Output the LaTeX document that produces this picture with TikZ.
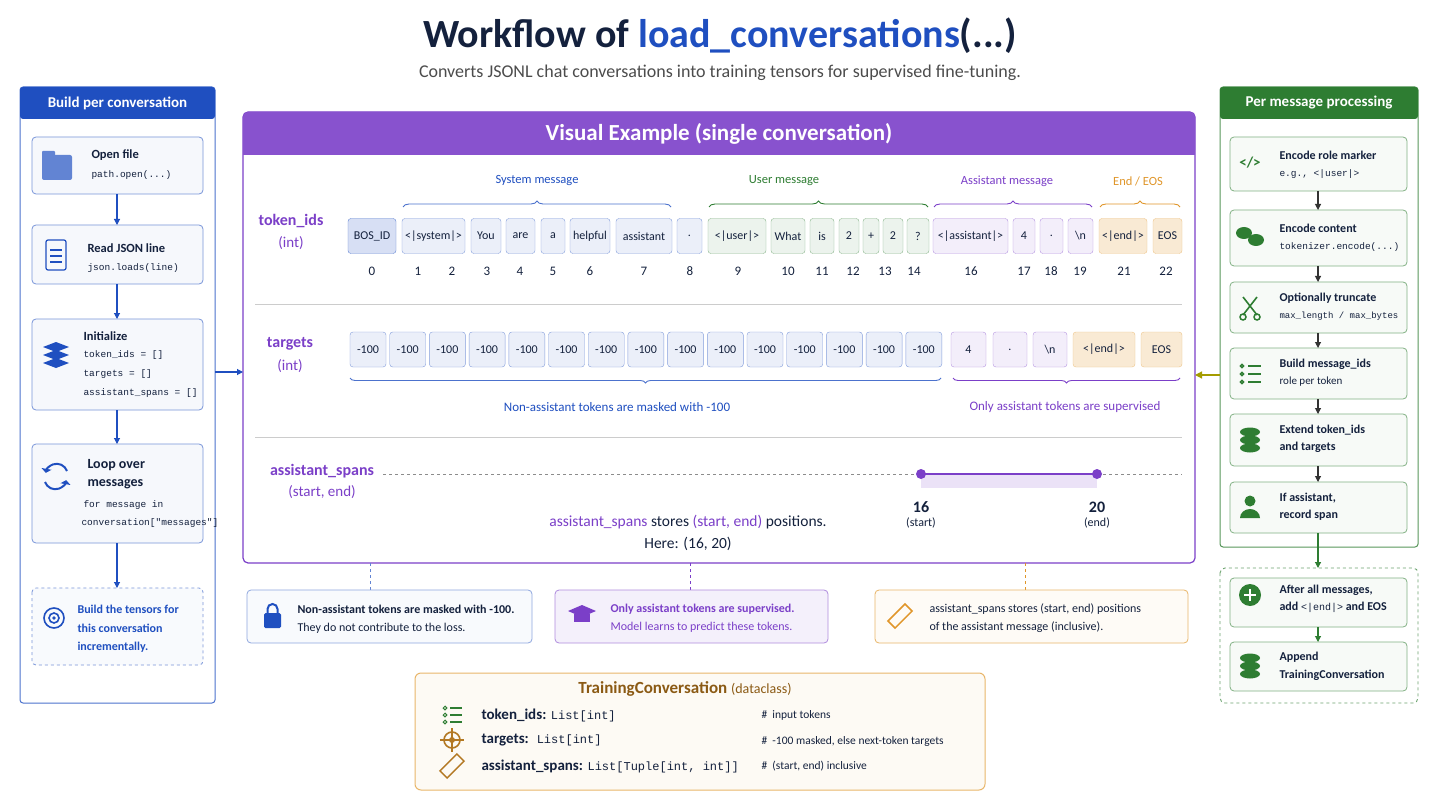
\documentclass[tikz,border=0pt]{standalone}
\usepackage{fontspec}
\setmainfont{Carlito}
\setmonofont{Liberation Mono}
\usetikzlibrary{decorations.pathreplacing,arrows.meta,calc}
\definecolor{cblue}{HTML}{1F4FC0}
\definecolor{cpur}{HTML}{7B3FC8}
\definecolor{cgrn}{HTML}{2E7D32}
\definecolor{cora}{HTML}{E0962A}
\definecolor{cbrn}{HTML}{8B5A14}
\definecolor{cdark}{HTML}{14213D}
\newcommand\fs[1]{\fontsize{#1}{#1}\selectfont}
\newcommand\tk[5]{\node[#1,minimum width=#3-#2] (#5) at ({(#2+#3)/2},236) {#4};}
\newcommand\tg[5]{\node[#1,minimum width=#3-#2] (#5) at ({(#2+#3)/2},349.5) {#4};}
\tikzset{
 tokb/.style={draw=#1!55,fill=#1!9,rounded corners=3pt,minimum height=35,inner sep=1pt,font=\fs{12},text=cdark},
 sys/.style={tokb=cblue}, usr/.style={tokb=cgrn}, ast/.style={tokb=cpur}, eos/.style={tokb=cora,fill=cora!20},
 bos/.style={tokb=cblue,fill=cblue!18,draw=cblue!70},
 lbox/.style={draw=cblue!60,fill=cblue!4,rounded corners=4pt,line width=0.8pt},
 rbox/.style={draw=cgrn!60,fill=cgrn!4,rounded corners=4pt,line width=0.8pt},
 ttl/.style={anchor=west,font=\bfseries\fs{12.5},text=cdark},
 mono/.style={anchor=west,font=\ttfamily\fs{9.5},text=cdark},
 arrb/.style={-{Triangle[length=6pt,width=6pt]},line width=1.1pt,color=cblue},
 arrg/.style={-{Triangle[length=6pt,width=6pt]},line width=1.1pt,color=black!80},
 idx/.style={font=\fs{13},text=cdark},
 brc/.style={decorate,decoration={brace,amplitude=6pt},line width=0.9pt},
}
\begin{document}
\begin{tikzpicture}[x=1pt,y=-1pt]
\useasboundingbox[fill=white] (0,0) rectangle (1440,810);
% title
\node (title) at (720,36) {\bfseries\fs{40}\color{cdark}Workflow of \color{cblue}load\_conversations\color{cdark}(...)};
\node[text=black!70] (sub) at (720,73) {\fs{18}Converts JSONL chat conversations into training tensors for supervised fine-tuning.};

% ===== left panel
\draw[cblue!80,line width=1pt,rounded corners=3pt,fill=white] (20,87) rectangle (215,703);
\fill[cblue,rounded corners=3pt] (20,87) rectangle (215,119);
\node[text=white,font=\bfseries\fs{15}] (lhead) at (117.5,103) {Build per conversation};
\draw[lbox] (32,137) rectangle (203,194); \coordinate (L1b) at (117,194);
\draw[lbox] (32,225) rectangle (203,284); \coordinate (L2t) at (117,225); \coordinate (L2b) at (117,284);
\draw[lbox] (32,319) rectangle (203,410); \coordinate (L3t) at (117,319); \coordinate (L3b) at (117,410);
\draw[lbox] (32,444) rectangle (203,543); \coordinate (L4t) at (117,444); \coordinate (L4b) at (117,543);
\draw[cblue!60,dashed,rounded corners=4pt,fill=cblue!3,line width=0.8pt] (32,588) rectangle (203,665); \coordinate (L5t) at (117,588);
\draw[arrb] (L1b)--(L2t); \draw[arrb] (L2b)--(L3t); \draw[arrb] (L3b)--(L4t); \draw[arrb] (L4b)--(L5t);
% icons
\fill[cblue!70,rounded corners=2pt] (42,155) rectangle (72,180); \fill[cblue!70,rounded corners=1pt] (42,151) rectangle (55,158);
\draw[cblue,line width=1.2pt,rounded corners=2pt] (46,240) rectangle (66,270);
\foreach \yy in {250,256,262} \draw[cblue,line width=1.2pt] (50,\yy)--(62,\yy);
\foreach \yy in {363,355,347} \fill[cblue] (56,\yy-5)--(69,\yy)--(56,\yy+5)--(43,\yy)--cycle;
\draw[cblue,line width=2pt,-{Triangle[length=4pt]}] (67,471) arc (-20:-170:11);
\draw[cblue,line width=2pt,-{Triangle[length=4pt]}] (45,482) arc (160:10:11);
\draw[cblue,line width=1.6pt] (54,618) circle (10); \draw[cblue,line width=1.6pt] (54,618) circle (5); \fill[cblue] (54,618) circle (1.8);
% texts
\node[ttl] (t1) at (88,155) {Open file}; \node[mono] (m1) at (88,175) {path.open(...)};
\node[ttl] (t2) at (84,248) {Read JSON line}; \node[mono] (m2) at (84,268) {json.loads(line)};
\node[ttl] (t3) at (80,336) {Initialize};
\node[mono] (m3a) at (80,355) {token\_ids = []};
\node[mono] (m3b) at (80,374) {targets = []};
\node[mono] (m3c) at (80,393) {assistant\_spans = []};
\node[ttl,font=\bfseries\fs{14}] (t4a) at (84,465) {Loop over};
\node[ttl,font=\bfseries\fs{14}] (t4b) at (84,484) {messages};
\node[mono] (m4a) at (80,505) {for message in};
\node[mono] (m4b) at (78,523) {conversation["messages"]};
\node[anchor=west,font=\bfseries\fs{12},text=cblue] (b5a) at (74,609) {Build the tensors for};
\node[anchor=west,font=\bfseries\fs{12},text=cblue] (b5b) at (74,628) {this conversation};
\node[anchor=west,font=\bfseries\fs{12},text=cblue] (b5c) at (74,647) {incrementally.};

% ===== main panel
\draw[cpur,line width=1.2pt,rounded corners=5pt,fill=white] (243,112) rectangle (1195,563);
\fill[cpur!90,rounded corners=5pt] (243,112) rectangle (1195,155);
\fill[cpur!90] (243,140) rectangle (1195,155);
\node[text=white,font=\bfseries\fs{23}] (mhead) at (719,134) {Visual Example (single conversation)};
\draw[black!20,line width=1pt] (255,305)--(1182,305);
\draw[black!20,line width=1pt] (255,437)--(1182,437);
\coordinate (ML) at (243,372); \coordinate (MR) at (1195,375);
\draw[arrb] (215,372)--(ML);

% token_ids row
\node[text=cpur,font=\bfseries\fs{16}] (lt1) at (291,221) {token\_ids};
\node[text=cpur,font=\fs{15}] (lt2) at (291,243) {(int)};
\tk{bos}{348}{396}{BOS\_ID}{k0}
\tk{sys}{402}{465}{<|system|>}{k1}
\tk{sys}{471}{501}{You}{k3}
\tk{sys}{506}{535}{are}{k4}
\tk{sys}{541}{565}{a}{k5}
\tk{sys}{570}{610}{helpful}{k6}
\tk{sys}{616}{672}{assistant}{k7}
\tk{sys}{677}{702}{.}{k8}
\tk{usr}{708}{766}{<|user|>}{k9}
\tk{usr}{771}{805}{What}{k10}
\tk{usr}{810}{834}{is}{k11}
\tk{usr}{839}{859}{2}{k12}
\tk{usr}{863}{879}{+}{k13}
\tk{usr}{883}{903}{2}{k14}
\tk{usr}{907}{929}{?}{k15}
\tk{ast}{933}{1008}{<|assistant|>}{k16}
\tk{ast}{1013}{1035}{4}{k17}
\tk{ast}{1040}{1063}{.}{k18}
\tk{ast}{1068}{1093}{\textbackslash n}{k19}
\tk{eos}{1099}{1147}{<|end|>}{k21}
\tk{eos}{1153}{1182}{EOS}{k22}
\foreach \n/\xx in {0/372,1/418,2/452,3/487,4/520,5/553,6/590,7/644,8/690,9/738,10/788,11/822,12/853,13/885,14/914,16/971,17/1024,18/1051,19/1080,21/1124,22/1166}
  \node[idx] (i\n) at (\xx,271) {\n};
\draw[brc,cblue!80] (403,207)--(671,207); \node[text=cblue,font=\fs{12.5}] (bs) at (537,181) {System message};
\draw[brc,cgrn] (709,207)--(928,207); \node[text=cgrn,font=\fs{12.5}] (bu) at (784,181) {User message};
\draw[brc,cpur] (934,207)--(1092,207); \node[text=cpur,font=\fs{12.5}] (ba) at (1007,181) {Assistant message};
\draw[brc,cora] (1100,207)--(1180,207); \node[text=cora,font=\fs{12.5}] (be) at (1138,181) {End / EOS};

% targets row
\node[text=cpur,font=\bfseries\fs{16}] (lg1) at (290,344) {targets};
\node[text=cpur,font=\fs{15}] (lg2) at (290,366) {(int)};
\foreach \i in {0,...,14} {
  \pgfmathsetmacro\xa{350+\i*39.7}
  \node[sys,minimum width=36] (g\i) at (\xa+18,349.5) {-100};
}
\tg{ast}{951}{986}{4}{g15}
\tg{ast}{993}{1027}{.}{g16}
\tg{ast}{1033}{1067}{\textbackslash n}{g17}
\tg{eos}{1073}{1135}{<|end|>}{g18}
\tg{eos}{1141}{1182}{EOS}{g19}
\draw[brc,cblue!80,decoration={brace,mirror,amplitude=5pt}] (350,378)--(941,378);
\node[text=cblue,font=\fs{13}] (nb1) at (617,407) {Non-assistant tokens are masked with -100};
\draw[brc,cpur,decoration={brace,mirror,amplitude=5pt}] (953,378)--(1180,378);
\node[text=cpur,font=\fs{13}] (nb2) at (1065,407) {Only assistant tokens are supervised};

% spans row
\node[text=cpur,font=\bfseries\fs{16}] (ls1) at (322,471) {assistant\_spans};
\node[text=cpur,font=\fs{15}] (ls2) at (322,492) {(start, end)};
\draw[black!45,dashed,line width=0.9pt] (383,474)--(1182,474);
\fill[cpur!15] (921,474) rectangle (1097,488);
\coordinate (s1) at (921,474); \coordinate (s2) at (1097,474);
\draw[cpur,line width=2pt] (s1)--(s2);
\fill[cpur] (s1) circle (5); \fill[cpur] (s2) circle (5);
\node[font=\bfseries\fs{16},text=cdark] (n16) at (921,507) {16};
\node[font=\fs{12},text=cdark] (n16b) at (921,523) {(start)};
\node[font=\bfseries\fs{16},text=cdark] (n20) at (1097,507) {20};
\node[font=\fs{12},text=cdark] (n20b) at (1097,523) {(end)};
\node[font=\fs{15.5},text=cdark] (sp1) at (688,522) {\textcolor{cpur}{assistant\_spans} stores \textcolor{cpur}{(start, end)} positions.};
\node[font=\fs{15.5},text=cdark] (sp2) at (688,544) {Here: (16, 20)};

% notes
\coordinate (d1) at (370,563); \coordinate (d2) at (690,563); \coordinate (d3) at (1025,563);
\draw[cblue!70,dashed,line width=1pt] (d1)--(370,590);
\draw[cpur,dashed,line width=1pt] (d2)--(690,590);
\draw[cora,dashed,line width=1pt] (d3)--(1025,590);
\draw[cblue!50,fill=cblue!3,rounded corners=4pt,line width=0.8pt] (247,590) rectangle (532,643);
\fill[cblue,rounded corners=1.5pt] (264,613) rectangle (281,628); \draw[cblue,line width=2pt] (267.5,613)--(267.5,609) arc (180:360:5)--(277.5,613);
\node[anchor=west,font=\bfseries\fs{12},text=cdark] (na1) at (294,609) {Non-assistant tokens are masked with -100.};
\node[anchor=west,font=\fs{12},text=cdark] (na2) at (294,628) {They do not contribute to the loss.};
\draw[cpur!60,fill=cpur!8,rounded corners=4pt,line width=0.8pt] (555,590) rectangle (828,643);
\fill[cpur] (568,611)--(582,605)--(596,611)--(582,617)--cycle; \fill[cpur] (574,614) rectangle (590,622);
\node[anchor=west,font=\bfseries\fs{12},text=cpur] (nb1x) at (607,609) {Only assistant tokens are supervised.};
\node[anchor=west,font=\fs{12},text=cpur] (nb2x) at (607,627) {Model learns to predict these tokens.};
\draw[cora!70,fill=cora!4,rounded corners=4pt,line width=0.8pt] (875,590) rectangle (1188,643);
\draw[cora,line width=1.5pt,rotate around={45:(900,616)}] (888,611) rectangle (912,621);
\node[anchor=west,font=\fs{12},text=cdark] (nc1) at (926,609) {assistant\_spans stores (start, end) positions};
\node[anchor=west,font=\fs{12},text=cdark] (nc2) at (926,627) {of the assistant message (inclusive).};

% ===== right panel
\draw[cgrn!80,line width=1pt,rounded corners=3pt,fill=white] (1220,87) rectangle (1418,547);
\fill[cgrn,rounded corners=3pt] (1220,87) rectangle (1418,119);
\node[text=white,font=\bfseries\fs{15}] (rhead) at (1319,103) {Per message processing};
\foreach \ya/\yb/\nm in {137/191/R1,210/266/R2,282/333/R3,348/399/R4,414/466/R5,482/533/R6}{
  \draw[rbox] (1230,\ya) rectangle (1407,\yb);
  \coordinate (\nm t) at (1318,\ya); \coordinate (\nm b) at (1318,\yb);
}
\draw[arrg] (R1b)--(R2t); \draw[arrg] (R2b)--(R3t); \draw[arrg] (R3b)--(R4t); \draw[arrg] (R4b)--(R5t); \draw[arrg] (R5b)--(R6t);
\draw[-{Triangle[length=7pt,width=7pt]},line width=1.2pt,color=olive!80!yellow] (1220,375)--(MR);
\draw[cgrn!70,dashed,rounded corners=5pt,line width=0.9pt] (1220,568) rectangle (1418,703);
\draw[-{Triangle[length=6pt,width=6pt]},line width=1.2pt,color=cgrn] (1318,533)--(1318,568);
\draw[rbox] (1230,578) rectangle (1407,627); \draw[rbox] (1230,642) rectangle (1407,691);
\draw[arrg,color=cgrn] (1318,627)--(1318,642);
% icons right
\node[font=\bfseries\fs{15},text=cgrn] (ic1) at (1250,163) {</>};
\fill[cgrn] (1244,233) ellipse (8 and 6); \fill[cgrn] (1256,240) ellipse (8 and 6);
\draw[cgrn,line width=1.6pt] (1243,297)--(1257,315) (1257,297)--(1243,315); \draw[cgrn,line width=1.5pt] (1243,317) circle (3) (1257,317) circle (3);
\foreach \yy in {366,374,382} {\draw[cgrn,line width=1.3pt] (1242,\yy) circle (1.6); \draw[cgrn,line width=2pt] (1248,\yy)--(1261,\yy);}
\foreach \yy in {432,440,448} \fill[cgrn] (1250,\yy) ellipse (10 and 4.5);
\fill[cgrn] (1250,501) circle (5.5); \fill[cgrn] (1240,518) arc (180:360:10 and 9)--cycle;
\fill[cgrn] (1250,595) circle (11); \draw[white,line width=2.2pt] (1244,595)--(1256,595) (1250,589)--(1250,601);
\foreach \yy in {658,666,674} \fill[cgrn] (1250,\yy) ellipse (10 and 4.5);
% texts right
\node[ttl,font=\bfseries\fs{12}] (r1) at (1276,155) {Encode role marker}; \node[mono,font=\ttfamily\fs{9.5}] (r1m) at (1276,174) {e.g., <|user|>};
\node[ttl,font=\bfseries\fs{12}] (r2) at (1276,228) {Encode content}; \node[mono,font=\ttfamily\fs{9.5}] (r2m) at (1276,247) {tokenizer.encode(...)};
\node[ttl,font=\bfseries\fs{12}] (r3) at (1276,298) {Optionally truncate}; \node[mono,font=\ttfamily\fs{9}] (r3m) at (1276,316) {max\_length / max\_bytes};
\node[ttl,font=\bfseries\fs{12}] (r4) at (1276,364) {Build message\_ids}; \node[anchor=west,font=\fs{11},text=cdark] (r4m) at (1276,382) {role per token};
\node[ttl,font=\bfseries\fs{12}] (r5) at (1276,430) {Extend token\_ids}; \node[ttl,font=\bfseries\fs{12}] (r5m) at (1276,447) {and targets};
\node[ttl,font=\bfseries\fs{12}] (r6) at (1276,498) {If assistant,}; \node[ttl,font=\bfseries\fs{12}] (r6m) at (1276,515) {record span};
\node[ttl,font=\bfseries\fs{12}] (r7) at (1276,590) {After all messages,};
\node[ttl,font=\bfseries\fs{12}] (r7m) at (1276,607) {add {\ttfamily\mdseries\fs{10}<|end|>} and EOS};
\node[ttl,font=\bfseries\fs{12}] (r8) at (1276,657) {Append}; \node[ttl,font=\bfseries\fs{12}] (r8m) at (1276,675) {TrainingConversation};

% ===== dataclass
\draw[cora!70,fill=cora!5,rounded corners=6pt,line width=1pt] (415,673) rectangle (985,790);
\node[text=cbrn,font=\fs{17}] (dc) at (685,689) {\bfseries TrainingConversation \mdseries\fs{14}(dataclass)};
\foreach \yy in {708,715,722} {\draw[cgrn,line width=1pt] (445,\yy) circle (1.8); \draw[cgrn,line width=2.6pt] (450,\yy)--(462,\yy);}
\draw[cora!80!black,line width=1.6pt] (452,740) circle (8); \fill[cora!80!black] (452,740) circle (3);
\draw[cora!80!black,line width=1.6pt] (452,728)--(452,752) (440,740)--(464,740);
\draw[cora!80!black,line width=1.4pt,rotate around={45:(452,766)}] (440,761) rectangle (464,771);
\node[anchor=west,text=cdark] (f1) at (478,715) {\bfseries\fs{15}token\_ids: \mdseries\ttfamily\fs{12}List[int]};
\node[anchor=west,text=cdark] (f2) at (478,740) {\bfseries\fs{15}targets: \ \mdseries\ttfamily\fs{12}List[int]};
\node[anchor=west,text=cdark] (f3) at (478,766) {\bfseries\fs{15}assistant\_spans: \mdseries\ttfamily\fs{12}List[Tuple[int, int]]};
\node[anchor=west,text=cdark,font=\fs{11.5}] (c1) at (758,715) {\#\ \ input tokens};
\node[anchor=west,text=cdark,font=\fs{11.5}] (c2) at (758,741) {\#\ \ -100 masked, else next-token targets};
\node[anchor=west,text=cdark,font=\fs{11.5}] (c3) at (758,766) {\#\ \ (start, end) inclusive};
\end{tikzpicture}
\end{document}
